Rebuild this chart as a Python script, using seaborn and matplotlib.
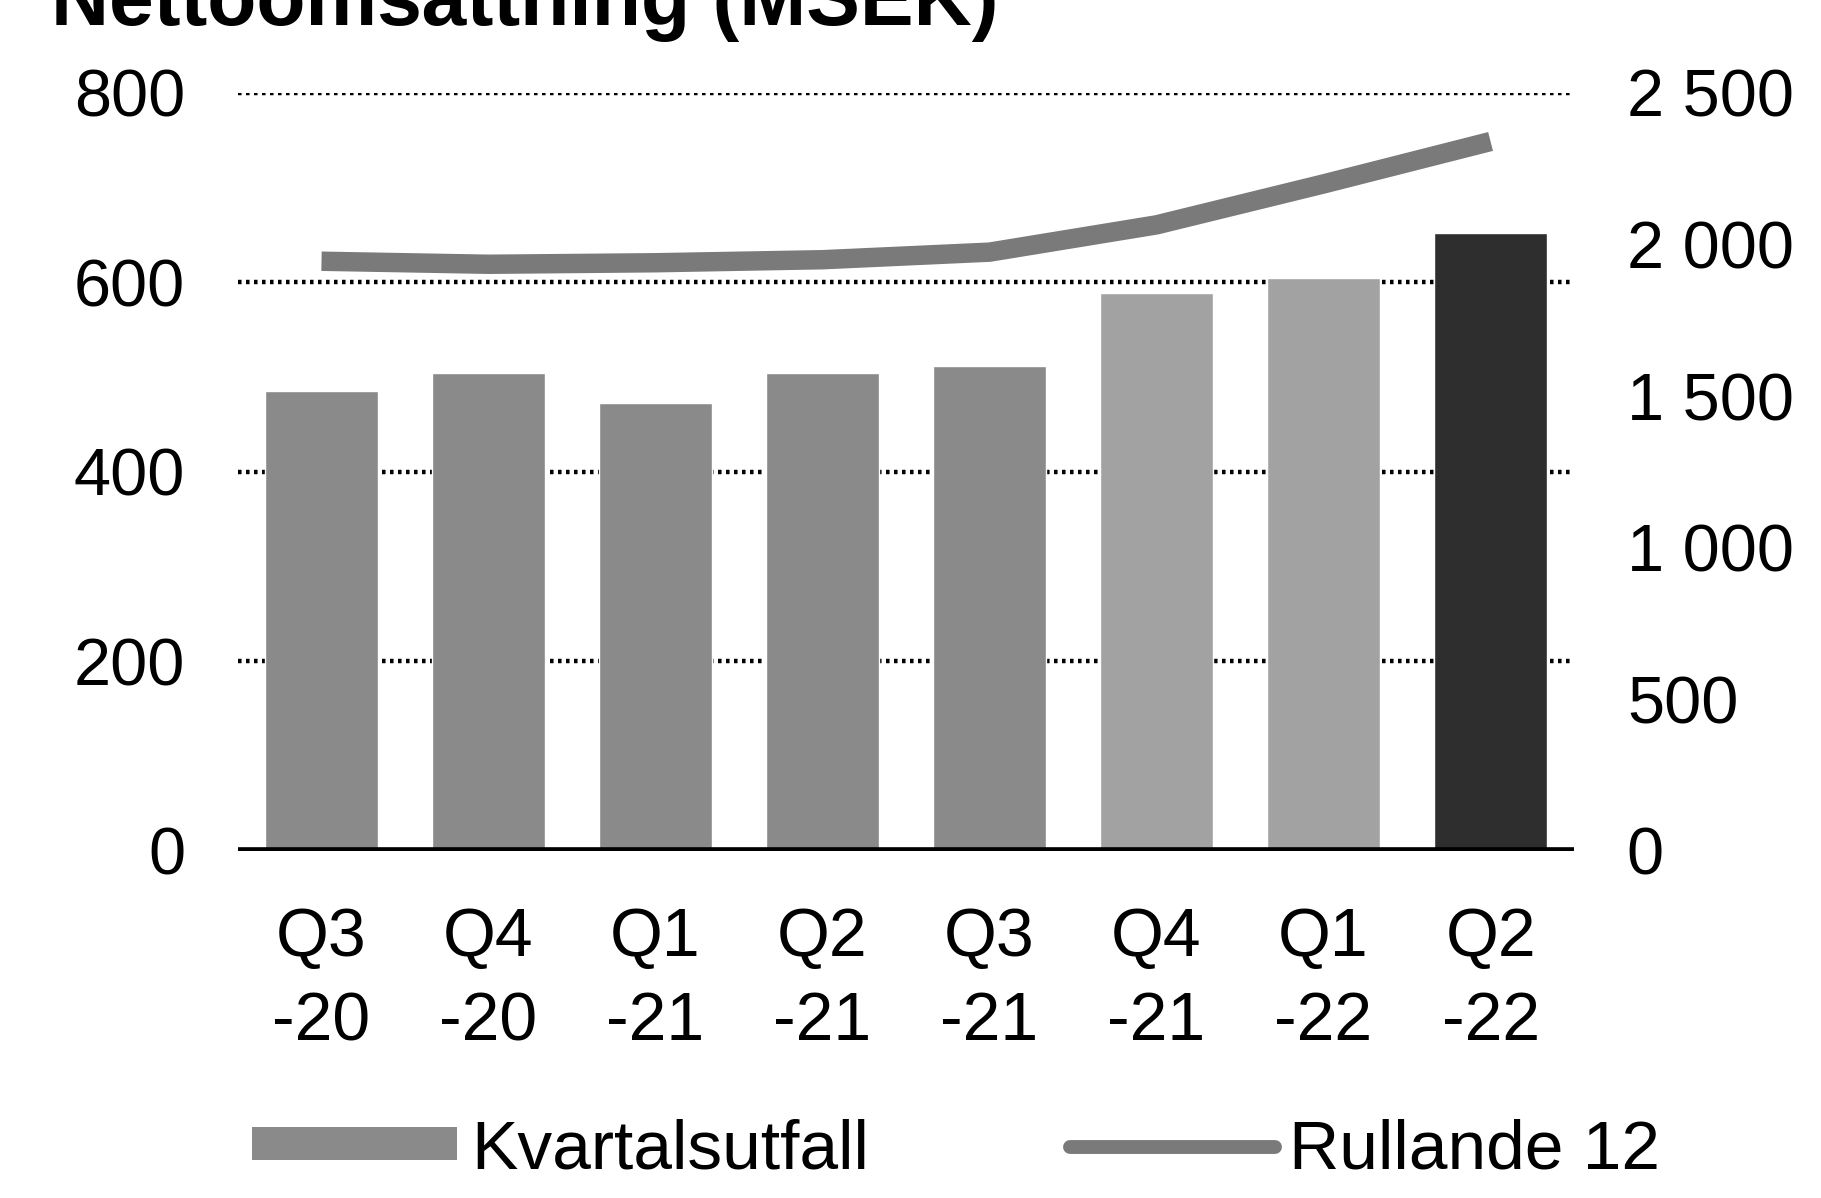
"""
Nettoomsättning per kvartal med rullande 12 månader
"""
import numpy as np
import pandas as pd
import matplotlib
matplotlib.use("Agg")
import matplotlib.pyplot as plt
from matplotlib.patches import Patch
from matplotlib.lines import Line2D
from matplotlib.ticker import FuncFormatter
import seaborn as sns

# Data (MSEK)
quarters = ["Q3\n-20", "Q4\n-20", "Q1\n-21", "Q2\n-21", "Q3\n-21", "Q4\n-21", "Q1\n-22", "Q2\n-22"]
kvartal = [485, 504, 473, 504, 512, 589, 605, 652]
rullande_12 = [1945, 1935, 1940, 1950, 1975, 2065, 2200, 2340]

title = "Nettoomsättning (MSEK)"
left_ticks = [0, 200, 400, 600, 800]
right_ticks = [0, 500, 1000, 1500, 2000, 2500]

# Stil
bar_colors = ["#8a8a8a", "#8a8a8a", "#8a8a8a", "#8a8a8a", "#8a8a8a", "#a2a2a2", "#a2a2a2", "#2e2e2e"]
line_color = "#7a7a7a"

sns.set_theme(style="white")
plt.rcParams["font.family"] = ["Liberation Sans", "DejaVu Sans"]
plt.rcParams["text.color"] = "black"
plt.rcParams["xtick.color"] = "black"
plt.rcParams["ytick.color"] = "black"

df = pd.DataFrame({"kvartal": quarters, "varde": kvartal, "r12": rullande_12})
df["pos"] = np.arange(len(df))

fig = plt.figure(figsize=(18.21, 11.98), dpi=100)
ax = fig.add_axes([0.1307, 0.2897, 0.7337, 0.6327])

sns.barplot(data=df, x="kvartal", y="varde", hue="kvartal", palette=bar_colors,
            legend=False, width=0.68, saturation=1, ax=ax, zorder=2)

ax.set_xlim(-0.5, len(quarters) - 0.5)
ax.set_ylim(0, 800)
ax.set_yticks(left_ticks)
ax.set_xlabel("")
ax.set_ylabel("")
for v in left_ticks[1:]:
    ax.axhline(v, color="black", linestyle=(0, (0.8, 1.0)), linewidth=3.2, zorder=1)
ax.axhline(0, color="black", linewidth=5.5, zorder=3)
ax.tick_params(axis="y", length=0, pad=38, labelsize=48)
ax.tick_params(axis="x", length=0, pad=40, labelsize=49)
for lbl in ax.get_xticklabels():
    lbl.set_linespacing(1.4)
sns.despine(ax=ax, left=True, bottom=True)

# Rullande 12 på höger axel
ax2 = ax.twinx()
sns.lineplot(data=df, x="pos", y="r12", color=line_color, linewidth=14, ax=ax2,
             solid_capstyle="butt")
ax2.set_ylim(0, 2500)
ax2.set_yticks(right_ticks)
ax2.yaxis.set_major_formatter(FuncFormatter(lambda v, p: format(int(v), ",").replace(",", " ")))
ax2.set_xlabel("")
ax2.set_ylabel("")
ax2.tick_params(axis="y", length=0, pad=38, labelsize=48)
for s in ax2.spines.values():
    s.set_visible(False)
ax2.set_xlim(-0.5, len(quarters) - 0.5)

# Titel (beskuren i överkant som i originalet)
fig.text(0.028, 0.979, title, fontsize=58, fontweight="bold", va="baseline", ha="left")

handles = [
    Patch(facecolor="#8a8a8a", edgecolor="none"),
    Line2D([0], [0], color=line_color, linewidth=10),
]
fig.legend(handles, ["Kvartalsutfall", "Rullande 12"], loc="center",
           bbox_to_anchor=(0.525, 0.04), ncol=2, frameon=False, fontsize=50,
           handlelength=2.95, handleheight=0.35, handletextpad=0.2, columnspacing=2.9)

fig.savefig("out.png", dpi=100)
